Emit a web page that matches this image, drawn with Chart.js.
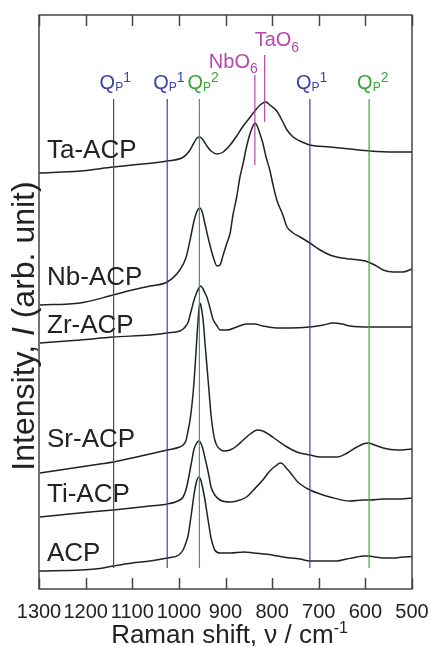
<!DOCTYPE html>
<html>
<head>
<meta charset="utf-8">
<script src="https://cdn.jsdelivr.net/npm/chart.js@4.4.1/dist/chart.umd.min.js"></script>
<style>
  html, body { margin: 0; padding: 0; background: #fff; }
  canvas { display: block; }
</style>
</head>
<body>
<canvas id="raman" width="430" height="646"></canvas>
<script>
// Raman spectra of the apatite samples, offset vertically (arb. units)
// x: Raman shift / cm^-1, y: intensity incl. stacking offset

const sampleNames = ['Ta-ACP', 'Nb-ACP', 'Zr-ACP', 'Sr-ACP', 'Ti-ACP', 'ACP'];

const taShift = [1300,1212,1141,1100,1025,990,976,968,961,955,948,940,931,918,905,890,876,862,847,837,826,813,805,790,777,768,755,740,719,676,633,590,540,500];
const taInt   = [416,418,422,424,428,432,439,446,451,452,449,443,438,435,437,444,453,463,472,478,484,487,484,478,467,459,452,448,444,442,440,438,437,437];

const nbShift = [1298,1212,1141,1100,1062,1025,998,985,976,968,961,955,950,944,935,927,918,912,905,897,890,884,876,869,862,855,847,841,837,832,826,820,813,805,798,790,777,768,755,740,719,697,676,650,633,600,580,562,540,520,500];
const nbInt   = [284,286,294,299,303,307,319,331,349,367,378,381,377,365,347,333,323,324,334,346,356,374,392,412,426,442,456,463,466,463,455,446,432,419,404,389,374,362,356,352,346,339,334,331,330,328,324,319,317,317,320];

const zrShift = [1298,1212,1141,1062,1025,998,991,985,980,976,972,968,963,957,953,948,944,940,935,931,927,918,912,897,876,855,837,820,790,762,719,690,670,650,633,590,540,500];
const zrInt   = [246,249,252,254,256,258,260,263,267,274,281,288,295,301,303,300,296,292,284,277,270,263,259,259,262,265,265,263,261,261,262,264,266,265,263,262,262,262];

const srShift = [1298,1255,1212,1169,1141,1100,1062,1025,998,991,985,980,976,972,968,963,961,957,955,953,948,944,940,935,931,927,923,918,912,905,890,876,862,847,832,820,805,790,768,747,719,697,661,639,618,605,594,580,562,532,500];
const srInt   = [116,119,122,125,127,131,135,139,142,144,148,159,169,184,204,239,254,279,286,284,269,246,224,196,174,159,149,143,140,138,139,143,149,155,159,158,154,149,142,137,134,132,132,136,142,145,146,144,141,139,140];

const tiShift = [1298,1255,1212,1141,1100,1062,1025,998,991,985,980,976,972,968,963,957,953,948,944,940,935,931,923,912,890,876,855,840,820,805,790,783,777,768,762,747,740,719,697,676,633,605,590,562,532,500];
const tiInt   = [72,74,76,79,81,83,85,89,92,99,109,119,129,139,145,148,146,139,131,123,112,102,94,89,87,88,92,99,109,118,124,126,125,120,117,108,105,99,95,92,88,89,89,90,90,91];

const acpShift = [1300,1210,1180,1141,1100,1062,1025,1000,991,985,980,976,972,968,963,957,953,948,944,940,935,931,927,923,912,890,860,840,800,777,740,719,690,661,640,618,605,594,580,562,540,520,500];
const acpInt   = [18,19,20,23,26,28,31,34,39,46,54,66,79,93,106,112,109,99,89,77,62,51,44,39,36,36,37,36,34,32,30,28,28,28,30,32,33,33,32,31,31,32,32.5];

// band assignments (cm^-1)
const qp1Shifts = [1140, 1025, 719];
const qp2Shifts = [956, 592];
const nbo6Shift = 837;
const tao6Shift = 816;

// axis ticks
const xTickValues = [1300, 1200, 1100, 1000, 900, 800, 700, 600, 500];

// ---------- styling / layout ----------
const FONT = '"Liberation Sans", Arial, Helvetica, sans-serif';
const INK = '#222222';
const BLUE = '#3a44a8';
const GREEN = '#3aa63a';
const MAGENTA = '#b846ae';

const Y_MIN = 0, Y_MAX = 574;
const qLineSpan = [21, 490];       // vertical extent of the Q-band markers
const nbLineSpan = [424, 514];
const taLineSpan = [467, 534];
const sampleLabelY = [431, 304, 256, 142, 87, 28];
const qLabelY = 500, nbLabelY = 521.5, taLabelY = 543;

function toPoints(xs, ys) {
  return xs.map((v, i) => ({ x: v, y: ys[i] }));
}

const spectra = [
  [taShift, taInt], [nbShift, nbInt], [zrShift, zrInt],
  [srShift, srInt], [tiShift, tiInt], [acpShift, acpInt]
].map(([xs, ys], i) => ({
  label: sampleNames[i],
  data: toPoints(xs, ys),
  borderColor: INK,
  borderWidth: 1.5,
  pointRadius: 0,
  cubicInterpolationMode: 'monotone',
  fill: false,
  order: 2
}));

function markerLine(name, shift, span, color) {
  return {
    label: name,
    data: [{ x: shift, y: span[0] }, { x: shift, y: span[1] }],
    borderColor: color,
    borderWidth: 1.2,
    pointRadius: 0,
    fill: false,
    order: 1
  };
}

const markers = [
  ...qp1Shifts.map(s => markerLine('QP1', s, qLineSpan, BLUE)),
  ...qp2Shifts.map(s => markerLine('QP2', s, qLineSpan, GREEN)),
  markerLine('NbO6', nbo6Shift, nbLineSpan, MAGENTA),
  markerLine('TaO6', tao6Shift, taLineSpan, MAGENTA)
];

// draw a run of text pieces with individual sizes / offsets (sub- and superscripts)
function richWidth(ctx, parts) {
  let w = 0;
  for (const p of parts) {
    ctx.font = (p.italic ? 'italic ' : '') + p.size + 'px ' + FONT;
    w += ctx.measureText(p.t).width;
  }
  return w;
}
function drawRich(ctx, x, y, parts) {
  let cx = x;
  for (const p of parts) {
    ctx.font = (p.italic ? 'italic ' : '') + p.size + 'px ' + FONT;
    ctx.fillText(p.t, cx, y + (p.dy || 0));
    cx += ctx.measureText(p.t).width;
  }
}

function qLabel(sup) {
  return [
    { t: 'Q', size: 20 },
    { t: 'P', size: 12, dy: 1.5 },
    { t: sup, size: 14, dy: -7 }
  ];
}
function oxLabel(metal) {
  return [
    { t: metal + 'O', size: 20 },
    { t: '6', size: 14, dy: 5.5 }
  ];
}

const decor = {
  id: 'decor',
  afterDatasetsDraw(chart) {
    const { ctx, chartArea: a, scales: { x, y } } = chart;
    ctx.save();

    // frame with inward ticks on top and bottom
    ctx.strokeStyle = '#454545';
    ctx.lineWidth = 1.5;
    ctx.strokeRect(a.left, a.top, a.right - a.left, a.bottom - a.top);
    ctx.beginPath();
    x.ticks.forEach(t => {
      const px = Math.round(x.getPixelForValue(t.value)) + 0.5;
      ctx.moveTo(px, a.bottom); ctx.lineTo(px, a.bottom - 11);
      ctx.moveTo(px, a.top); ctx.lineTo(px, a.top + 11);
    });
    ctx.stroke();

    ctx.textBaseline = 'alphabetic';
    ctx.textAlign = 'left';

    // sample names
    ctx.fillStyle = INK;
    ctx.font = '26px ' + FONT;
    sampleNames.forEach((name, i) => {
      ctx.fillText(name, a.left + 8, y.getPixelForValue(sampleLabelY[i]));
    });

    // band labels
    const qy = y.getPixelForValue(qLabelY);
    ctx.fillStyle = BLUE;
    qp1Shifts.forEach(s => drawRich(ctx, x.getPixelForValue(s) - 14, qy, qLabel('1')));
    ctx.fillStyle = GREEN;
    qp2Shifts.forEach(s => drawRich(ctx, x.getPixelForValue(s) - 12, qy, qLabel('2')));
    ctx.fillStyle = MAGENTA;
    drawRich(ctx, x.getPixelForValue(nbo6Shift) - 46, y.getPixelForValue(nbLabelY), oxLabel('Nb'));
    drawRich(ctx, x.getPixelForValue(tao6Shift) - 10, y.getPixelForValue(taLabelY), oxLabel('Ta'));

    // axis titles
    ctx.fillStyle = INK;
    const xt = [
      { t: 'Raman shift, \u03bd / cm', size: 26 },
      { t: '-1', size: 16, dy: -10 }
    ];
    const xw = richWidth(ctx, xt);
    drawRich(ctx, (a.left + a.right) / 2 + 4 - xw / 2, 643, xt);

    const yt = [
      { t: 'Intensity, ', size: 32 },
      { t: 'I', size: 32, italic: true },
      { t: ' (arb. unit)', size: 32 }
    ];
    const yw = richWidth(ctx, yt);
    ctx.translate(34, 326);
    ctx.rotate(-Math.PI / 2);
    drawRich(ctx, -yw / 2, 0, yt);

    ctx.restore();
  }
};

new Chart(document.getElementById('raman'), {
  type: 'line',
  data: { datasets: [...spectra, ...markers] },
  options: {
    responsive: false,
    animation: false,
    layout: { padding: { top: 15, right: 18, left: 0, bottom: 0 } },
    plugins: { legend: { display: false }, tooltip: { enabled: false } },
    scales: {
      x: {
        type: 'linear',
        position: 'bottom',
        reverse: true,
        min: 500,
        max: 1300,
        afterBuildTicks: s => { s.ticks = xTickValues.map(v => ({ value: v })); },
        afterFit: s => { s.height = 57; s.paddingLeft = 0; s.paddingRight = 0; },
        grid: { display: false },
        border: { display: false },
        ticks: {
          autoSkip: false,
          maxRotation: 0,
          padding: 3,
          color: INK,
          font: { family: FONT, size: 20 },
          callback: v => String(v)
        }
      },
      y: {
        type: 'linear',
        min: Y_MIN,
        max: Y_MAX,
        afterFit: s => { s.width = 39; },
        grid: { display: false },
        border: { display: false },
        ticks: { display: false }
      }
    }
  },
  plugins: [decor]
});
</script>
</body>
</html>
